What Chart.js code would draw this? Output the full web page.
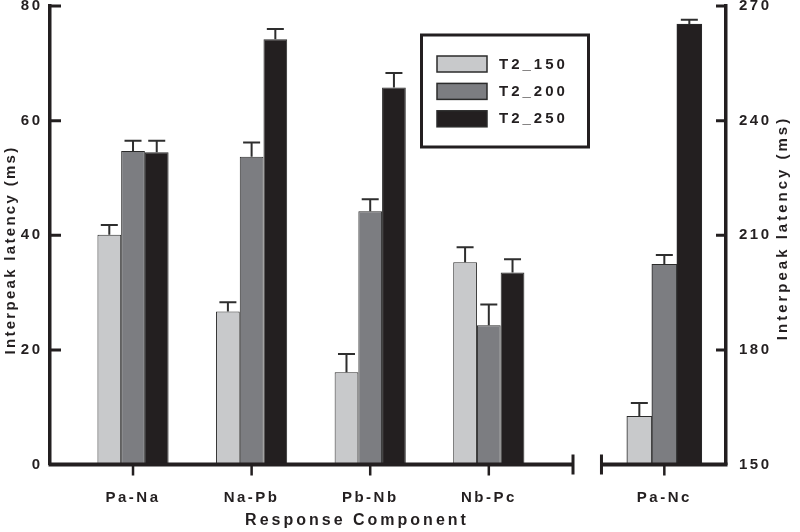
<!DOCTYPE html>
<html>
<head>
<meta charset="utf-8">
<title>Interpeak latency</title>
<script src="https://cdn.jsdelivr.net/npm/chart.js@4.4.1/dist/chart.umd.min.js"></script>
<style>
  html, body { margin: 0; padding: 0; background: #fff; }
  canvas { display: block; }
</style>
</head>
<body>
<canvas id="grafico" width="800" height="532"></canvas>
<script>
// datos (el ultimo valor, Pa-Nc, va en el eje derecho)
const categorias = ["Pa-Na", "Na-Pb", "Pb-Nb", "Nb-Pc", "Pa-Nc"];
const series = ["T2_150", "T2_200", "T2_250"];
const t2_150 = [40.1, 26.7, 16.1, 35.3, 162.6];
const t2_200 = [54.7, 53.7, 44.2, 24.3, 202.4];
const t2_250 = [54.5, 74.2, 65.8, 33.5, 265.3];
const err150 = [1.7, 1.6, 3.2, 2.6, 3.5];
const err200 = [1.8, 2.5, 2.1, 3.6, 2.4];
const err250 = [2.0, 1.8, 2.5, 2.3, 1.1];
const ticksIzq = [0, 20, 40, 60, 80];
const ticksDer = [150, 180, 210, 240, 270];

// ubicacion de las categorias en el eje x (el eje esta cortado antes de Pa-Nc)
const posX = [1, 2, 3, 4, 5.48];
const corte = [4.71, 4.95];

const tinta = "#231f20";
const familia = "'Liberation Sans', Arial, sans-serif";
const fuente = { family: familia, size: 15, weight: "bold" };
const colores = ["#c8c9cb", "#7c7d81", "#231f20"];
const valores = [t2_150, t2_200, t2_250];
const errores = [err150, err200, err250];

const datasets = [];
series.forEach((nombre, s) => {
  datasets.push({
    label: nombre,
    data: valores[s].slice(0, 4).map((v, i) => ({ x: posX[i], y: v })),
    errores: errores[s].slice(0, 4),
    backgroundColor: colores[s],
    borderColor: "#2b2b2b",
    borderWidth: 1,
    yAxisID: "y",
    skipNull: true,
    categoryPercentage: 0.6,
    barPercentage: 1,
  });
});
series.forEach((nombre, s) => {
  datasets.push({
    label: nombre,
    data: [{ x: posX[4], y: valores[s][4] }],
    errores: [errores[s][4]],
    backgroundColor: colores[s],
    borderColor: "#2b2b2b",
    borderWidth: 1,
    yAxisID: "y2",
    skipNull: true,
    barThickness: 25,
  });
});

const decoracion = {
  id: "decoracion",
  beforeDraw(chart) {
    chart.ctx.letterSpacing = "2.5px";
  },
  afterDatasetsDraw(chart) {
    const ctx = chart.ctx;
    ctx.save();
    ctx.strokeStyle = "#2e2e2e";
    ctx.lineWidth = 2;
    chart.data.datasets.forEach((ds, d) => {
      const meta = chart.getDatasetMeta(d);
      const eje = chart.scales[ds.yAxisID];
      meta.data.forEach((barra, i) => {
        const arriba = eje.getPixelForValue(ds.data[i].y + ds.errores[i]);
        ctx.beginPath();
        ctx.moveTo(barra.x, barra.y);
        ctx.lineTo(barra.x, arriba);
        ctx.moveTo(barra.x - 8.5, arriba);
        ctx.lineTo(barra.x + 8.5, arriba);
        ctx.stroke();
      });
    });
    ctx.restore();
  },
  afterDraw(chart) {
    const ctx = chart.ctx;
    const area = chart.chartArea;
    const x = chart.scales.x;
    const y = chart.scales.y;
    const y2 = chart.scales.y2;
    const base = area.bottom;
    ctx.save();
    ctx.strokeStyle = tinta;
    ctx.lineCap = "butt";

    // eje x cortado
    const c1 = x.getPixelForValue(corte[0]);
    const c2 = x.getPixelForValue(corte[1]);
    ctx.lineWidth = 4;
    ctx.beginPath();
    ctx.moveTo(area.left - 1.5, base);
    ctx.lineTo(c1, base);
    ctx.moveTo(c2, base);
    ctx.lineTo(area.right + 1.5, base);
    ctx.stroke();
    ctx.lineWidth = 3;
    ctx.beginPath();
    ctx.moveTo(c1, base - 10);
    ctx.lineTo(c1, base + 10);
    ctx.moveTo(c2, base - 10);
    ctx.lineTo(c2, base + 10);
    ctx.stroke();

    // marcas
    ctx.lineWidth = 2.5;
    ctx.beginPath();
    posX.forEach((v) => {
      const px = x.getPixelForValue(v);
      ctx.moveTo(px, base);
      ctx.lineTo(px, base + 11);
    });
    ctx.stroke();
    ctx.lineWidth = 3;
    ctx.beginPath();
    ticksIzq.slice(1).forEach((v) => {
      const py = y.getPixelForValue(v);
      ctx.moveTo(area.left, py);
      ctx.lineTo(area.left + 11, py);
    });
    ticksDer.slice(1).forEach((v) => {
      const py = y2.getPixelForValue(v);
      ctx.moveTo(area.right, py);
      ctx.lineTo(area.right - 10, py);
    });
    ctx.stroke();

    // titulos
    ctx.fillStyle = tinta;
    ctx.textAlign = "center";
    ctx.textBaseline = "middle";
    ctx.font = "bold 16px " + familia;
    ctx.letterSpacing = "3px";
    ctx.fillText("Response Component", 357, 521);

    ctx.font = "bold 15px " + familia;
    ctx.letterSpacing = "2.3px";
    ctx.save();
    ctx.translate(11, 250);
    ctx.rotate(-Math.PI / 2);
    ctx.fillText("Interpeak latency (ms)", 0, 0);
    ctx.restore();

    ctx.letterSpacing = "3px";
    ctx.save();
    ctx.translate(783, 228);
    ctx.rotate(-Math.PI / 2);
    ctx.fillText("Interpeak latency (ms)", 0, 0);
    ctx.restore();

    // leyenda
    ctx.lineWidth = 3;
    ctx.strokeRect(421.5, 35, 167, 112);
    ctx.textAlign = "left";
    ctx.letterSpacing = "3px";
    ctx.font = "bold 15px " + familia;
    series.forEach((nombre, s) => {
      const top = 56 + s * 27.4;
      ctx.fillStyle = colores[s];
      ctx.fillRect(437, top, 50, 16);
      ctx.lineWidth = 1.5;
      ctx.strokeStyle = "#2b2b2b";
      ctx.strokeRect(437, top, 50, 16);
      ctx.fillStyle = tinta;
      ctx.fillText(nombre, 499, top + 8.5);
    });
    ctx.restore();
    ctx.letterSpacing = "0px";
  },
};

const config = {
  type: "bar",
  data: { datasets },
  options: {
    responsive: false,
    animation: false,
    devicePixelRatio: 1,
    layout: { padding: { top: 6, left: 0, right: 0, bottom: 0 } },
    plugins: { legend: { display: false }, tooltip: { enabled: false } },
    scales: {
      x: {
        type: "linear",
        bounds: "data",
        offset: false,
        min: 0.3,
        max: 6.0,
        stacked: false,
        grid: { display: false, drawTicks: false, offset: false },
        border: { display: false },
        afterBuildTicks: (eje) => {
          eje.ticks = posX.map((v) => ({ value: v }));
        },
        ticks: {
          autoSkip: false,
          maxRotation: 0,
          padding: 24,
          color: tinta,
          font: fuente,
          callback: (v, i) => categorias[i],
        },
        afterFit: (eje) => {
          eje.height = 67.5;
          eje.paddingLeft = 0;
          eje.paddingRight = 0;
        },
      },
      y: {
        type: "linear",
        position: "left",
        min: 0,
        max: 80,
        grid: { display: false, drawTicks: false },
        border: { display: true, width: 3.5, color: tinta },
        afterBuildTicks: (eje) => {
          eje.ticks = ticksIzq.map((v) => ({ value: v }));
        },
        ticks: { padding: 7.5, color: tinta, font: fuente },
        afterFit: (eje) => {
          eje.width = 50;
          eje.paddingTop = 0;
          eje.paddingBottom = 0;
        },
      },
      y2: {
        type: "linear",
        position: "right",
        min: 150,
        max: 270,
        grid: { display: false, drawTicks: false },
        border: { display: true, width: 3.5, color: tinta },
        afterBuildTicks: (eje) => {
          eje.ticks = ticksDer.map((v) => ({ value: v }));
        },
        ticks: { padding: 13, color: tinta, font: fuente },
        afterFit: (eje) => {
          eje.width = 74;
          eje.paddingTop = 0;
          eje.paddingBottom = 0;
        },
      },
    },
  },
  plugins: [decoracion],
};

const grafico = new Chart(document.getElementById("grafico"), config);
</script>
</body>
</html>
